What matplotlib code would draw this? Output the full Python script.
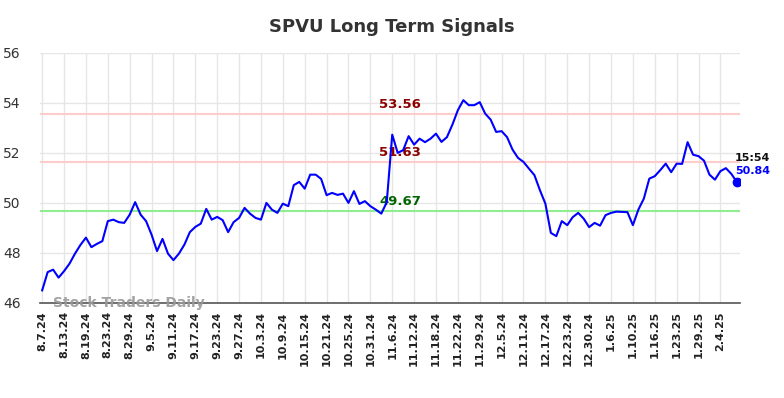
import matplotlib
matplotlib.use('Agg')
import matplotlib.pyplot as plt

ticker = 'SPVU'
prices = [46.50, 47.23, 47.33, 47.01, 47.27, 47.57, 47.97, 48.32, 48.61, 48.23,
          48.36, 48.47, 49.27, 49.33, 49.23, 49.20, 49.53, 50.03, 49.53, 49.27,
          48.73, 48.07, 48.56, 47.97, 47.71, 47.97, 48.33, 48.83, 49.04, 49.17,
          49.76, 49.33, 49.44, 49.31, 48.83, 49.23, 49.40, 49.80, 49.57, 49.40,
          49.33, 50.00, 49.73, 49.60, 49.97, 49.87, 50.71, 50.84, 50.57, 51.13,
          51.13, 50.96, 50.31, 50.40, 50.32, 50.37, 50.00, 50.47, 49.96, 50.07,
          49.87, 49.73, 49.57, 50.03, 52.73, 52.00, 52.11, 52.67, 52.33, 52.57,
          52.43, 52.57, 52.77, 52.44, 52.63, 53.13, 53.71, 54.11, 53.91, 53.91,
          54.03, 53.57, 53.33, 52.84, 52.87, 52.63, 52.13, 51.80, 51.64, 51.37,
          51.11, 50.51, 49.97, 48.80, 48.67, 49.27, 49.11, 49.43, 49.60, 49.37,
          49.03, 49.20, 49.09, 49.51, 49.60, 49.65, 49.64, 49.63, 49.11, 49.73,
          50.17, 50.97, 51.07, 51.31, 51.57, 51.23, 51.57, 51.56, 52.43, 51.93,
          51.87, 51.69, 51.13, 50.93, 51.27, 51.39, 51.16, 50.84]
tick_labels = ['8.7.24', '8.13.24', '8.19.24', '8.23.24', '8.29.24', '9.5.24',
               '9.11.24', '9.17.24', '9.23.24', '9.27.24', '10.3.24', '10.9.24',
               '10.15.24', '10.21.24', '10.25.24', '10.31.24', '11.6.24', '11.12.24',
               '11.18.24', '11.22.24', '11.29.24', '12.5.24', '12.11.24', '12.17.24',
               '12.23.24', '12.30.24', '1.6.25', '1.10.25', '1.16.25', '1.23.25',
               '1.29.25', '2.4.25']
tick_step = 4
resistance = [53.56, 51.63]
support = [49.67]
last_time = '15:54'

x = list(range(len(prices)))

fig = plt.figure(figsize=(7.84, 3.98), dpi=100)
ax = fig.add_axes([0.051, 0.239, 0.893, 0.628])

ax.set_xlim(-0.4, 127.6)
ax.set_ylim(46, 56)
ax.set_yticks(range(46, 57, 2))
ax.set_xticks(x[::tick_step])
ax.set_xticklabels(tick_labels, rotation=90, fontsize=8, fontweight='bold', color='#222222')
ax.tick_params(axis='y', labelsize=10, colors='#333333', length=0, pad=14)
ax.tick_params(axis='x', length=0, pad=6)
ax.grid(True, color='#e6e6e6', linewidth=1)
ax.set_axisbelow(True)
for side in ['left', 'right', 'top']:
    ax.spines[side].set_visible(False)
ax.spines['bottom'].set_color('#555555')
ax.spines['bottom'].set_linewidth(1.2)

label_x = 65.5
for lvl in resistance:
    ax.axhline(lvl, color='#ffcccc', linewidth=1.5, zorder=1)
    ax.text(label_x, lvl + 0.12, f'{lvl:.2f}', color='#8b0000', fontsize=9.5,
            fontweight='bold', ha='center', va='bottom')
for lvl in support:
    ax.axhline(lvl, color='#90ee90', linewidth=1.5, zorder=1)
    ax.text(label_x, lvl + 0.12, f'{lvl:.2f}', color='#006400', fontsize=9.5,
            fontweight='bold', ha='center', va='bottom')

ax.plot(x, prices, color='#0000ff', linewidth=1.5, zorder=3)
ax.plot(x[-1], prices[-1], 'o', color='#0000ff', markersize=6, zorder=4)
ax.text(x[-1] - 0.3, prices[-1] + 0.95, last_time, fontsize=8, fontweight='bold',
        color='#111111', ha='left', va='center')
ax.text(x[-1] - 0.3, prices[-1] + 0.45, f'{prices[-1]:.2f}', fontsize=8,
        fontweight='bold', color='#0000ff', ha='left', va='center')

ax.text(2, 46.0, 'Stock Traders Daily', fontsize=10, fontweight='bold',
        color='#999999', alpha=0.9, ha='left', va='center', zorder=5)

fig.suptitle(f'{ticker} Long Term Signals', x=0.5, y=0.955, fontsize=13,
             fontweight='bold', color='#333333')

fig.savefig('out.png', dpi=100)
